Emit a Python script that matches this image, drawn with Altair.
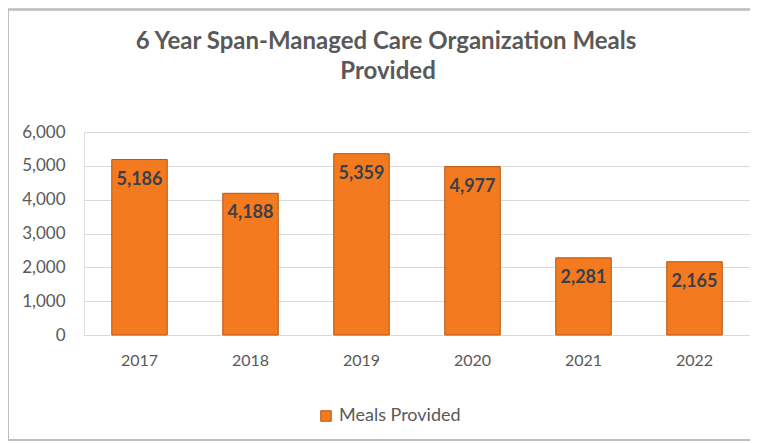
import altair as alt
import pandas as pd

years = ["2017", "2018", "2019", "2020", "2021", "2022"]
meals = [5186, 4188, 5359, 4977, 2281, 2165]
series = ["Meals Provided"] * 6
y_ticks = [0, 1000, 2000, 3000, 4000, 5000, 6000]
title_lines = ["6 Year Span-Managed Care Organization Meals", "Provided"]

df = pd.DataFrame({"year": years, "meals": meals, "series": series})

FONT = "Lato"
GREY = "#595959"

x_enc = alt.X("year:N", title=None, sort=years,
              scale=alt.Scale(paddingInner=0.5, paddingOuter=0.25),
              axis=alt.Axis(labelAngle=0, labelFontSize=16, labelColor=GREY, labelFont=FONT,
                            ticks=False, domainColor="#D9D9D9", labelPadding=17))
y_enc = alt.Y("meals:Q", title=None,
              scale=alt.Scale(domain=[0, 6000]),
              axis=alt.Axis(values=y_ticks, format=",.0f",
                            labelFontSize=17, labelColor=GREY, labelFont=FONT,
                            labelOverlap=False,
                            ticks=False, domain=False, gridColor="#D9D9D9",
                            labelPadding=19))

base = alt.Chart(df)

bars = base.mark_bar(stroke="#B9550E", strokeWidth=1).encode(
    x=x_enc,
    y=y_enc,
    color=alt.Color("series:N", scale=alt.Scale(range=["#F37A1F"]),
                    legend=alt.Legend(title=None, orient="none", legendX=233, legendY=275,
                                      symbolType="square", symbolSize=110,
                                      symbolStrokeColor="#B9550E", symbolStrokeWidth=1,
                                      labelFontSize=18, labelColor=GREY, labelFont=FONT,
                                      labelOffset=4)),
)

labels = base.mark_text(font=FONT, fontSize=18, fontWeight="bold", color="#3A3F4B",
                        baseline="middle", dy=20).encode(
    x=x_enc,
    y=y_enc,
    text=alt.Text("meals:Q", format=","),
)

title_df = pd.DataFrame({"line": title_lines, "idx": [0, 1]})
title1 = alt.Chart(title_df).transform_filter("datum.idx == 0").mark_text(
    font=FONT, fontSize=24, fontWeight="bold", color=GREY, align="center", baseline="middle"
).encode(text="line:N", x=alt.value(302), y=alt.value(-90))
title2 = alt.Chart(title_df).transform_filter("datum.idx == 1").mark_text(
    font=FONT, fontSize=24, fontWeight="bold", color=GREY, align="center", baseline="middle"
).encode(text="line:N", x=alt.value(304), y=alt.value(-60))

border = alt.Chart(df).mark_rect(fill=None, stroke="#BFBFBF", strokeWidth=1.5, clip=False).encode(
    x=alt.value(-76), x2=alt.value(700), y=alt.value(-122.5), y2=alt.value(308)
)

chart = alt.layer(border, bars, labels, title1, title2).properties(
    width=666, height=203,
    autosize=alt.AutoSizeParams(type="none"),
    padding={"left": 76, "top": 124, "right": 0, "bottom": 108},
).configure_view(stroke=None).configure(background="white")

chart.save("out.html", embed_options={"renderer": "svg", "actions": False})
